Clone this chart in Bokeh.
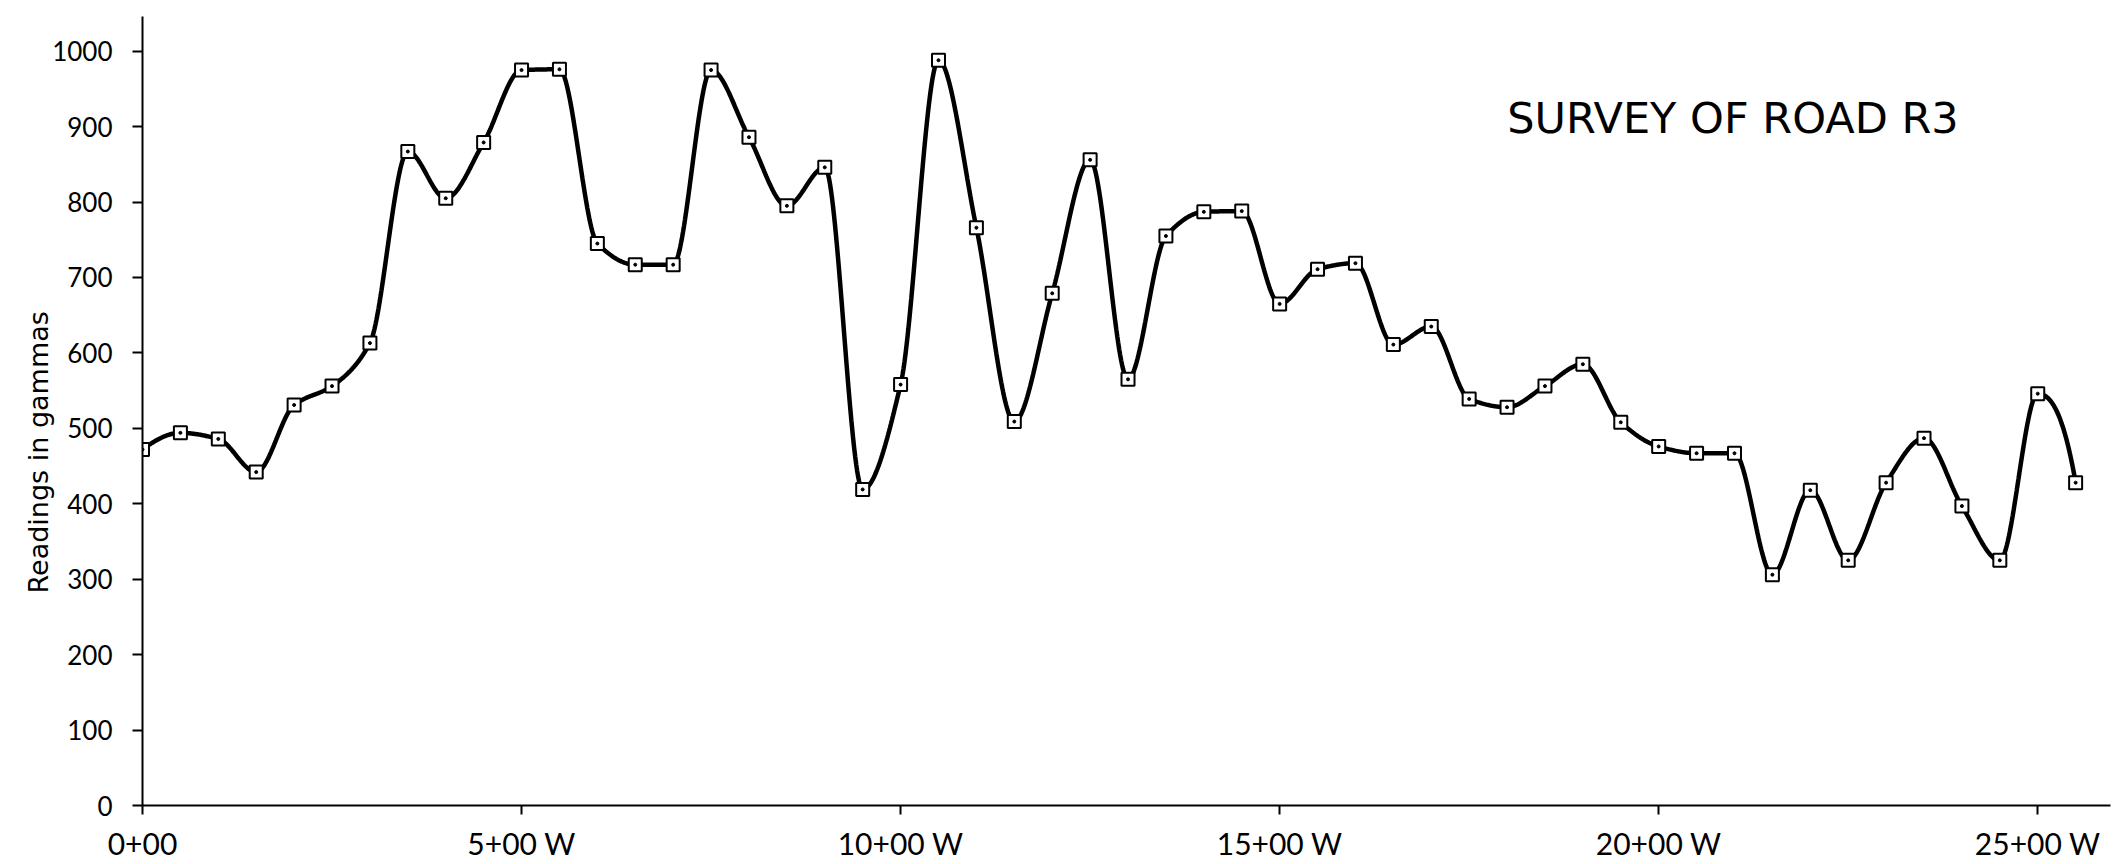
import numpy as np
from bokeh.plotting import figure
from bokeh.models import Range1d, FixedTicker, Label, Title
from bokeh.embed import file_html
from bokeh.resources import INLINE

# Stations (hundreds of feet west of 0+00), one reading every 50 ft
stations = [i * 0.5 for i in range(52)]
readings = [472, 494, 486, 442, 531, 556, 613, 867, 805, 879,
            975, 976, 745, 717, 717, 975, 886, 795, 846, 419,
            558, 988, 766, 509, 679, 856, 565, 755, 787, 788,
            665, 711, 719, 611, 635, 539, 528, 556, 585, 508,
            476, 467, 467, 306, 418, 325, 428, 487, 397, 325,
            546, 428]

x_ticks = [0, 5, 10, 15, 20, 25]
x_tick_labels = ["0+00", "5+00 W", "10+00 W", "15+00 W", "20+00 W", "25+00 W"]
y_ticks = [0, 100, 200, 300, 400, 500, 600, 700, 800, 900, 1000]

title_text = "SURVEY OF ROAD  R3"
y_label_text = "Readings in gammas"


def pchip(x, y, xs):
    x = np.asarray(x, float)
    y = np.asarray(y, float)
    h = np.diff(x)
    d = np.diff(y) / h
    n = len(x)
    m = np.zeros(n)
    for k in range(1, n - 1):
        if d[k - 1] * d[k] > 0:
            w1 = 2 * h[k] + h[k - 1]
            w2 = h[k] + 2 * h[k - 1]
            m[k] = (w1 + w2) / (w1 / d[k - 1] + w2 / d[k])

    def end(h0, h1, d0, d1):
        mm = ((2 * h0 + h1) * d0 - h0 * d1) / (h0 + h1)
        if np.sign(mm) != np.sign(d0):
            return 0.0
        if np.sign(d0) != np.sign(d1) and abs(mm) > abs(3 * d0):
            return 3 * d0
        return mm

    m[0] = end(h[0], h[1], d[0], d[1])
    m[-1] = end(h[-1], h[-2], d[-1], d[-2])
    idx = np.clip(np.searchsorted(x, xs) - 1, 0, n - 2)
    t = (xs - x[idx]) / h[idx]
    h00 = 2 * t**3 - 3 * t**2 + 1
    h10 = t**3 - 2 * t**2 + t
    h01 = -2 * t**3 + 3 * t**2
    h11 = t**3 - t**2
    return h00 * y[idx] + h10 * h[idx] * m[idx] + h01 * y[idx + 1] + h11 * h[idx] * m[idx + 1]


xs = np.linspace(stations[0], stations[-1], 2000)
ys = pchip(stations, readings, xs)

p = figure(width=2124, height=864, output_backend="svg", toolbar_location=None,
           x_range=Range1d(0, 25.96), y_range=Range1d(0, 1046),
           min_border_left=142, min_border_right=14, min_border_top=16, min_border_bottom=59)
p.outline_line_color = None
p.xgrid.visible = False
p.ygrid.visible = False
p.background_fill_color = "white"
p.border_fill_color = "white"

p.line(xs, ys, line_color="black", line_width=4.5)
p.scatter(stations, readings, marker="square", size=13, fill_color="white",
          line_color="black", line_width=2)
p.scatter(stations, readings, marker="circle", size=3, fill_color="black",
          line_color="black")

# axes
p.xaxis.ticker = FixedTicker(ticks=x_ticks)
p.xaxis.major_label_overrides = {t: lab for t, lab in zip(x_ticks, x_tick_labels)}
p.yaxis.ticker = FixedTicker(ticks=y_ticks)
for ax in (p.xaxis[0], p.yaxis[0]):
    ax.axis_line_color = "black"
    ax.axis_line_width = 2
    ax.major_tick_line_color = "black"
    ax.major_tick_line_width = 2
    ax.major_tick_in = 0
    ax.minor_tick_line_color = None
    ax.major_label_text_color = "black"
    ax.major_label_text_font = "Lato"

p.xaxis.major_tick_out = 9
p.xaxis.major_label_standoff = 10
p.xaxis.major_label_text_font_size = "30px"
p.yaxis.major_tick_out = 10
p.yaxis.major_label_standoff = 20
p.yaxis.major_label_text_font_size = "26px"

p.add_layout(Title(text=y_label_text, align="left", offset=212, standoff=-9,
                   text_font="DejaVu Sans", text_font_size="27px",
                   text_font_style="normal", text_color="black"), "left")
p.add_layout(Label(x=21.07, y=911, text=title_text,
                   text_align="center", text_baseline="alphabetic",
                   text_font="DejaVu Sans", text_font_size="43px", text_color="black"))

open("out.html", "w").write(file_html(p, INLINE))
